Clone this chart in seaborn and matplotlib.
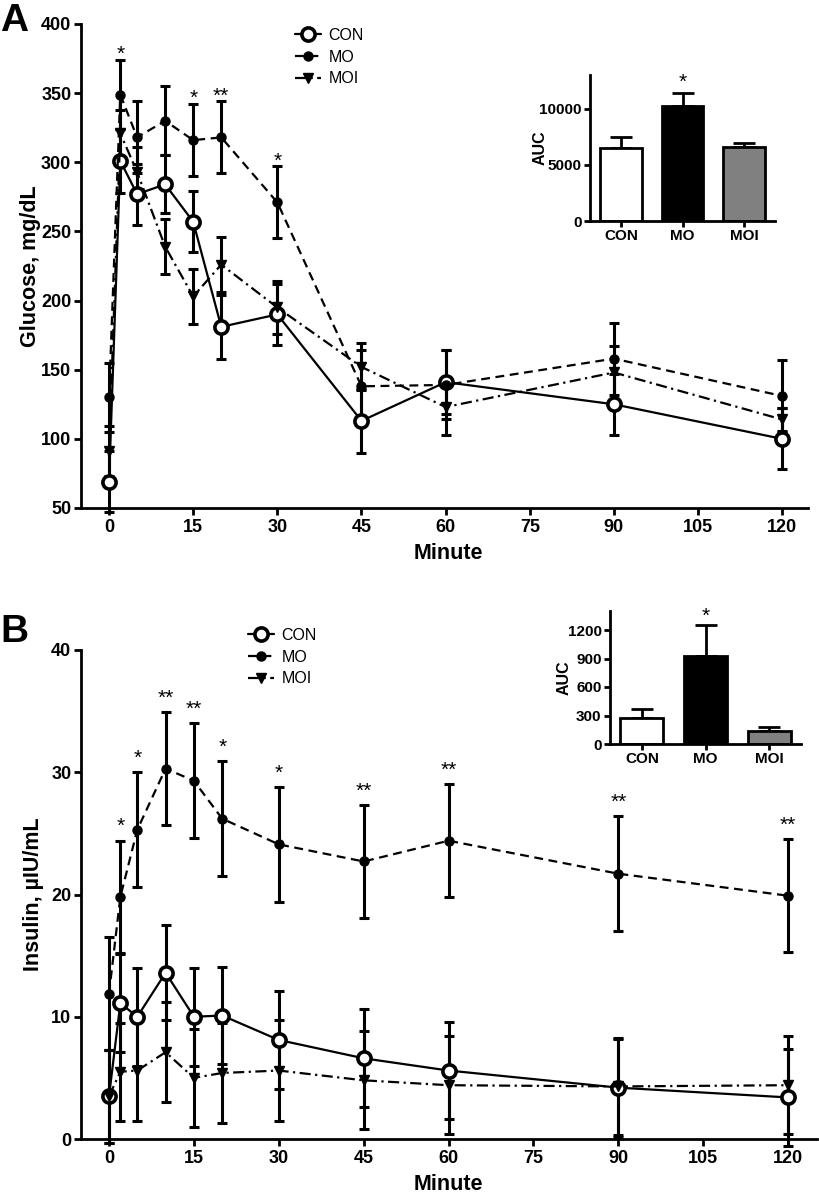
import matplotlib
matplotlib.use("Agg")
import matplotlib.pyplot as plt
import seaborn as sns

# Temps de prélèvement (minutes)
minutes = [0, 2, 5, 10, 15, 20, 30, 45, 60, 90, 120]
groupes = ["CON", "MO", "MOI"]

# A - glucose (moyenne, SEM)
glu_con = [69, 301, 277, 284, 257, 181, 190, 113, 141, 125, 100]
glu_mo = [130, 349, 318, 330, 316, 318, 271, 138, 139, 158, 131]
glu_moi = [91, 321, 293, 239, 203, 226, 195, 152, 123, 148, 114]
glu_con_sem = [22, 23, 22, 21, 22, 23, 22, 23, 23, 22, 22]
glu_mo_sem = [25, 25, 26, 25, 26, 26, 26, 26, 25, 26, 26]
glu_moi_sem = [18, 17, 18, 20, 20, 20, 19, 17, 20, 19, 8]
glu_star_min = [2, 15, 20, 30]
glu_star_txt = ["*", "*", "**", "*"]

# B - insuline (moyenne, SEM)
ins_con = [3.5, 11.1, 10.0, 13.6, 10.0, 10.1, 8.1, 6.6, 5.6, 4.2, 3.4]
ins_mo = [11.9, 19.8, 25.3, 30.3, 29.3, 26.2, 24.1, 22.7, 24.4, 21.7, 19.9]
ins_moi = [3.5, 5.5, 5.6, 7.1, 5.0, 5.4, 5.6, 4.8, 4.4, 4.3, 4.4]
ins_con_sem = [3.8, 4.0, 4.0, 3.9, 4.0, 4.0, 4.0, 4.0, 4.0, 4.0, 4.0]
ins_mo_sem = [4.6, 4.6, 4.7, 4.6, 4.7, 4.7, 4.7, 4.6, 4.6, 4.7, 4.6]
ins_moi_sem = [3.8, 4.0, 4.1, 4.1, 4.0, 4.1, 4.1, 4.0, 4.0, 4.0, 4.0]
ins_star_min = [2, 5, 10, 15, 20, 30, 45, 60, 90, 120]
ins_star_txt = ["*", "*", "**", "**", "*", "*", "**", "**", "**", "**"]

# Aires sous la courbe (inserts)
auc_glu = [6500, 10200, 6550]
auc_glu_sem = [950, 1170, 380]
auc_ins = [270, 923, 140]
auc_ins_sem = [103, 328, 41]
couleurs_barres = ["white", "black", "#808080"]

sns.set_style("ticks")
plt.rcParams["font.family"] = ["Liberation Sans", "DejaVu Sans"]
plt.rcParams["axes.linewidth"] = 2
for k in ["axes.edgecolor", "text.color", "axes.labelcolor", "xtick.color", "ytick.color"]:
    plt.rcParams[k] = "black"

W, H = 819, 1202
fig = plt.figure(figsize=(W / 100, H / 100), dpi=100)

def pos(x0, y0, x1, y1):
    # pixels -> fraction de figure
    return [x0 / W, 1 - y1 / H, (x1 - x0) / W, (y1 - y0) / H]

styles = {
    "CON": dict(marker="o", markersize=9.5, markerfacecolor="white", markeredgewidth=2.6, linestyle="-"),
    "MO": dict(marker="o", markersize=6.5, markerfacecolor="black", markeredgewidth=1, linestyle=(0, (4, 2.5))),
    "MOI": dict(marker="v", markersize=7.5, markerfacecolor="black", markeredgewidth=1, linestyle=(0, (5, 2, 1, 2))),
}


def gras(ax, size):
    for lab in ax.get_xticklabels() + ax.get_yticklabels():
        lab.set_fontweight("bold")
        lab.set_fontsize(size)


def panneau(ax, series, sems, star_min, star_txt, star_off, legend_xy):
    lignes = []
    for g, y, e in zip(groupes, series, sems):
        ax.errorbar(minutes, y, yerr=e, fmt="none", ecolor="k", elinewidth=2.2,
                    capsize=3.5, capthick=2.2, zorder=2, clip_on=False)
        sns.lineplot(x=minutes, y=y, ax=ax, color="k", linewidth=1.6,
                     markeredgecolor="k", zorder=3, **styles[g])
        lignes.append(ax.lines[-1])
    haut = dict(zip(minutes, [m + s for m, s in zip(series[1], sems[1])]))
    for t, s in zip(star_min, star_txt):
        ax.annotate(s, xy=(t, haut[t]), xytext=(0, star_off), textcoords="offset points",
                    ha="center", va="center", fontsize=15)
    ax.legend(lignes, groupes, loc="upper left", bbox_to_anchor=legend_xy,
              bbox_transform=fig.transFigure, frameon=False, prop={"size": 11.5},
              handlelength=1.6, handletextpad=0.5, labelspacing=0.42, borderpad=0, borderaxespad=0)
    ax.set_xticks([0, 15, 30, 45, 60, 75, 90, 105, 120])
    ax.tick_params(axis="both", width=2, length=5)
    ax.tick_params(axis="y", pad=2)
    ax.tick_params(axis="x", pad=3)
    sns.despine(ax=ax)
    ax.set_xlabel("Minute", fontsize=15.5, fontweight="bold")
    ax.xaxis.label.set_va("center")


def insert(ax, vals, sems, yticks, ylim, star_off, ylab_x):
    sns.barplot(x=groupes, y=vals, hue=groupes, palette=couleurs_barres, legend=False,
                edgecolor="k", linewidth=2, width=0.68, ax=ax, zorder=2)
    ax.errorbar(range(3), vals, yerr=[[0, 0, 0], sems], fmt="none", ecolor="k",
                elinewidth=2, capsize=8, capthick=2, zorder=1)
    ax.annotate("*", xy=(1, vals[1] + sems[1]), xytext=(0, star_off), textcoords="offset points",
                ha="center", va="center", fontsize=15)
    ax.set_xlim(-0.5, 2.5)
    ax.set_ylim(*ylim)
    ax.set_yticks(yticks)
    ax.tick_params(axis="both", width=2, length=4, pad=2)
    gras(ax, 11)
    ax.set_ylabel("AUC", fontsize=11.5, fontweight="bold")
    ax.yaxis.label.set_va("center")
    ax.yaxis.set_label_coords(ylab_x, 0.5)
    sns.despine(ax=ax)


# Panneau A
axA = fig.add_axes(pos(81, 24, 808, 508))
panneau(axA, [glu_con, glu_mo, glu_moi], [glu_con_sem, glu_mo_sem, glu_moi_sem],
        glu_star_min, glu_star_txt, 4, (295 / W, 1 - 28 / H))
axA.set_xlim(-5, 124.6)
axA.set_ylim(50, 400)
axA.set_yticks(range(50, 401, 50))
gras(axA, 13)
axA.xaxis.set_label_coords(0.505, -0.093)
axA.set_ylabel("Glucose, mg/dL", fontsize=15.5, fontweight="bold")
axA.yaxis.label.set_va("center")
axA.yaxis.set_label_coords(-0.070, 0.5)

axA_in = fig.add_axes(pos(590, 75, 775, 221))
insert(axA_in, auc_glu, auc_glu_sem, [0, 5000, 10000], (0, 13000), 8, -0.27)

# Panneau B
axB = fig.add_axes(pos(81, 650, 817, 1139))
panneau(axB, [ins_con, ins_mo, ins_moi], [ins_con_sem, ins_mo_sem, ins_moi_sem],
        ins_star_min, ins_star_txt, 10, (248 / W, 1 - 628 / H))
axB.set_xlim(-4.95, 125.1)
axB.set_ylim(0, 40)
axB.set_yticks([0, 10, 20, 30, 40])
gras(axB, 13)
axB.xaxis.set_label_coords(0.499, -0.094)
axB.set_ylabel("Insulin, µIU/mL", fontsize=15.5, fontweight="bold")
axB.yaxis.label.set_va("center")
axB.yaxis.set_label_coords(-0.064, 0.5)

axB_in = fig.add_axes(pos(610, 611, 801, 744))
insert(axB_in, auc_ins, auc_ins_sem, [0, 300, 600, 900, 1200], (0, 1400), 6, -0.241)

fig.text(14 / W, 1 - 21 / H, "A", fontsize=28, fontweight="bold", ha="center", va="center")
fig.text(14 / W, 1 - 632 / H, "B", fontsize=28, fontweight="bold", ha="center", va="center")

fig.savefig("out.png", dpi=100)
